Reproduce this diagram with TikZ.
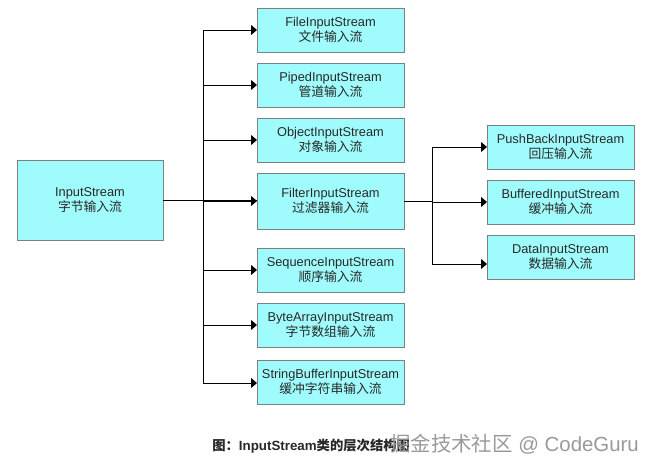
\documentclass[tikz,border=0pt]{standalone}
\usepackage{fontspec}
\setmainfont{Liberation Sans}
\newfontfamily\cjk{Noto Sans CJK SC}
\usetikzlibrary{arrows.meta}
\definecolor{boxfill}{RGB}{160,252,252}
\definecolor{boxline}{RGB}{120,130,130}
\definecolor{txt}{RGB}{40,40,40}
\begin{document}
\begin{tikzpicture}[x=0.75pt,y=-0.75pt,
  cls/.style={draw=boxline,fill=boxfill,line width=0.75pt,inner sep=0pt,outer sep=0pt,
    minimum width=110.25pt,minimum height=33pt,align=center,text=txt,
    font=\fontsize{9.6pt}{11.4pt}\selectfont},
  conn/.style={line width=0.75pt,black},
  arr/.style={conn,-{Triangle[length=4.5pt,width=7.5pt]}}]
\useasboundingbox (0,0) rectangle (656,472);
\newcommand{\lbl}[2]{#1\\{\cjk #2}}
\node[cls,minimum width=109.5pt,minimum height=60pt] (in) at (90,200) {\lbl{InputStream}{字节输入流}};
\node[cls] (file) at (330.5,30) {\lbl{FileInputStream}{文件输入流}};
\node[cls] (piped) at (330.5,85) {\lbl{PipedInputStream}{管道输入流}};
\node[cls] (object) at (330.5,140) {\lbl{ObjectInputStream}{对象输入流}};
\node[cls,minimum height=42pt] (filter) at (330.5,201) {\lbl{FilterInputStream}{过滤器输入流}};
\node[cls] (seq) at (330.5,270) {\lbl{SequenceInputStream}{顺序输入流}};
\node[cls] (byte) at (330.5,325) {\lbl{ByteArrayInputStream}{字节数组输入流}};
\node[cls] (sbuf) at (330.5,382) {\lbl{StringBufferInputStream}{缓冲字符串输入流}};
\node[cls] (push) at (560.5,147) {\lbl{PushBackInputStream}{回压输入流}};
\node[cls] (buf) at (560.5,202) {\lbl{BufferedInputStream}{缓冲输入流}};
\node[cls] (data) at (560.5,257) {\lbl{DataInputStream}{数据输入流}};
% left trunk
\coordinate (lt) at (203,30);
\coordinate (lb) at (203,383);
\draw[conn] (lt) -- (lb);
\draw[conn] (in.east) -- (filter.west |- in.east);
\draw[arr] (203,201) -- (filter.west);
\draw[arr] (lt) -- (file.west);
\draw[arr] (203,85) -- (piped.west);
\draw[arr] (203,140) -- (object.west);
\draw[arr] (203,270) -- (seq.west);
\draw[arr] (203,325) -- (byte.west);
\draw[arr] (lb) -- (lb -| sbuf.west);
% right trunk
\coordinate (rt) at (432,147);
\coordinate (rb) at (432,264);
\draw[conn] (filter.east) -- (432,201);
\draw[conn] (rt) -- (rb);
\draw[arr] (rt) -- (push.west);
\draw[arr] (432,202) -- (buf.west);
\draw[arr] (rb) -- (rb -| data.west);
% caption
\node[anchor=west,inner sep=0pt,text=txt,font=\fontsize{10pt}{12pt}\selectfont\bfseries] (cap) at (212,446)
  {{\cjk 图：}InputStream{\cjk 类的层次结构图}};
\node[anchor=west,inner sep=0pt,text=black!40,font=\fontsize{15.3pt}{17pt}\selectfont] (wm) at (390,444)
  {{\cjk 掘金技术社区} @ CodeGuru};
\end{tikzpicture}
\end{document}
